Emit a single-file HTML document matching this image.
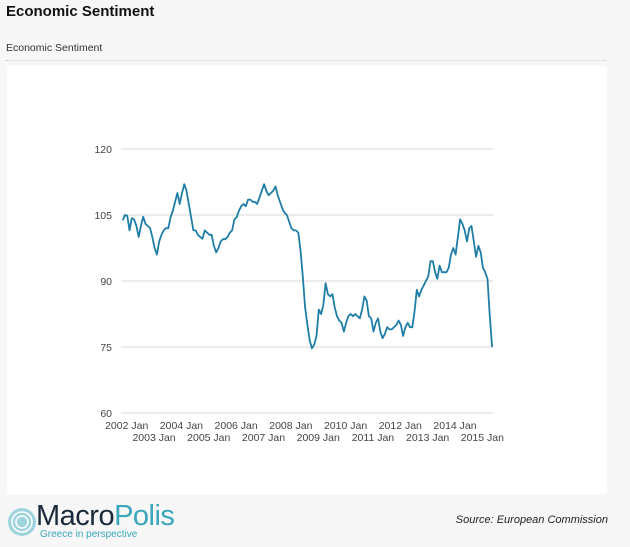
<!DOCTYPE html>
<html><head><meta charset="utf-8"><style>
body{margin:0;width:630px;height:547px;background:#f7f7f7;font-family:"Liberation Sans",sans-serif;position:relative;overflow:hidden}
.t{position:absolute;left:6px;top:3px;font-size:15px;font-weight:bold;color:#111}
.st{position:absolute;left:6px;top:42px;font-size:10.5px;color:#333}
.dl{position:absolute;left:6px;top:60px;width:600px;border-top:1px dotted #ccc}
.panel{position:absolute;left:7px;top:66px;width:600px;height:428px;background:#fff}
svg{position:absolute;left:0;top:0}
.src{position:absolute;right:22px;top:514px;font-size:11px;font-style:italic;color:#222}
</style></head><body>
<div class="t">Economic Sentiment</div>
<div class="st">Economic Sentiment</div>
<div class="dl"></div>
<div class="panel"></div>
<svg width="630" height="547" id="chart"></svg>
<div style="position:absolute;left:6px;top:503px;">
<svg width="32" height="32" style="position:absolute;left:0;top:3px"><circle cx="16" cy="16" r="14" fill="#9fd3de"/><circle cx="16" cy="16" r="10" fill="none" stroke="#fff" stroke-width="1.5"/><circle cx="16" cy="16" r="6" fill="none" stroke="#fff" stroke-width="1.5"/></svg>
<div style="position:absolute;left:30px;top:-3px;font-size:29px;white-space:nowrap;letter-spacing:-0.5px"><span style="color:#1a2a3a">Macro</span><span style="color:#3aa6bc">Polis</span></div>
<div style="position:absolute;left:34px;top:26px;font-size:10px;color:#3aa6bc;white-space:nowrap">Greece in perspective</div>
</div>
<div class="src">Source: European Commission</div>
<script>
const yTicks=[60,75,90,105,120];
const xTickYears=[2002,2003,2004,2005,2006,2007,2008,2009,2010,2011,2012,2013,2014,2015];
const startYear=2002;
const values=[
103.8,105,104.8,101.5,104.3,104,102.5,100,102.5,104.6,103,102.5,
102,100,97.5,96,99,100.5,101.5,102,102,104.5,106,108,
110,107.5,110,112,110.5,107.5,104.5,101.5,101.5,100.5,100,99.6,
101.5,101,100.5,100.5,98,96.5,97.5,99,99.5,99.5,100,101,
101.5,104,104.5,106,107,107.5,107,108.5,108.5,108,108,107.5,
109,110.5,112,110.5,109.5,110,110.5,111.5,109.5,108,106.5,105.5,
105,103.5,102,101.5,101.5,101,97,91,84,80,76.5,74.7,
75.5,77.5,83.5,82.5,84.5,89.5,87,86.5,87,84,82,81,
80.5,78.5,80.5,82,82.5,82,82.5,82,81.5,83.5,86.5,85.5,
82,81.5,78.5,80.5,81.5,78.5,77,78,79.5,79,79,79.5,
80,81,80,77.5,79.5,80.5,79.5,79.5,83,88,86.5,88,
89,90,91,94.5,94.5,92,90.5,93.5,92,92,92,93,
96,97.5,96,100,104,103,101.5,99,102,102.5,99,95.5,
98,96.5,93,92,90.5,82,75];
const svg=document.getElementById('chart');const NS='http://www.w3.org/2000/svg';
const X=m=>122.7+m*2.28; const Y=v=>149+(120-v)*4.4;
function mk(t,a){const e=document.createElementNS(NS,t);for(const k in a)e.setAttribute(k,a[k]);svg.appendChild(e);return e;}
yTicks.forEach(v=>{
 const l=mk('line',{x1:121,x2:493,y1:Y(v),y2:Y(v),stroke:'#d8d8d8','stroke-width':1});
 
 
 const t=mk('text',{x:112,y:Y(v)+4,'text-anchor':'end','font-size':10.5,fill:'#444','font-family':'Liberation Sans'});
 t.textContent=v;
 
 
});
xTickYears.forEach((yr,i)=>{
 const t=mk('text',{x:X((yr-startYear)*12)+4,y:i%2?441:429,'text-anchor':'middle','font-size':10.5,fill:'#444','font-family':'Liberation Sans'});
 t.textContent=yr+' Jan';
 
 
});
const p=mk('path',{d:values.map((v,i)=>(i?'L':'M')+X(i).toFixed(1)+','+Y(v).toFixed(1)).join(''),fill:'none',stroke:'#1f7ea6','stroke-width':1.8,'stroke-linejoin':'round'});


</script>
</body></html>
